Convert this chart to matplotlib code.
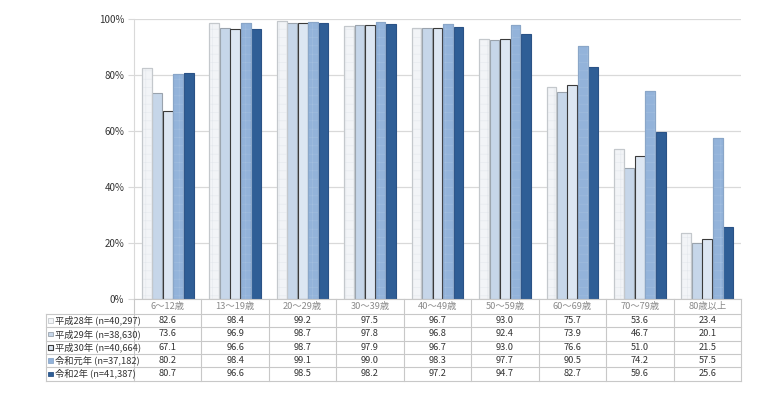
import matplotlib
matplotlib.use("Agg")
import matplotlib.pyplot as plt
from matplotlib.patches import Rectangle
import numpy as np

plt.rcParams['font.family'] = ['Noto Sans CJK JP', 'DejaVu Sans']
plt.rcParams['hatch.linewidth'] = 0.4

categories = ["6～12歳", "13～19歳", "20～29歳", "30～39歳", "40～49歳",
              "50～59歳", "60～69歳", "70～79歳", "80歳以上"]
series_labels = ["平成28年 (n=40,297)", "平成29年 (n=38,630)", "平成30年 (n=40,664)",
                 "令和元年 (n=37,182)", "令和2年 (n=41,387)"]
h28 = [82.6, 98.4, 99.2, 97.5, 96.7, 93.0, 75.7, 53.6, 23.4]
h29 = [73.6, 96.9, 98.7, 97.8, 96.8, 92.4, 73.9, 46.7, 20.1]
h30 = [67.1, 96.6, 98.7, 97.9, 96.7, 93.0, 76.6, 51.0, 21.5]
r1 = [80.2, 98.4, 99.1, 99.0, 98.3, 97.7, 90.5, 74.2, 57.5]
r2 = [80.7, 96.6, 98.5, 98.2, 97.2, 94.7, 82.7, 59.6, 25.6]
series = [h28, h29, h30, r1, r2]

faces = ["#f2f4f7", "#c6d6e9", "#dce6f2", "#93b3da", "#2f5e96"]
edges = ["#c4c8cc", "#9aa3ad", "#3a3a3a", "#8aa6c8", "#2a5286"]
hatches = ["++", None, None, "++", None]
hatch_cols = ["#e4e8ed", None, None, "#a2bedf", None]

W, H = 765, 394
fig = plt.figure(figsize=(W / 100, H / 100), dpi=100)

x0, x1 = 134, 741
y_top, y_zero = 19, 299
ax = fig.add_axes([x0 / W, 1 - y_zero / H, (x1 - x0) / W, (y_zero - y_top) / H])
n = len(categories)
ax.set_xlim(-0.5, n - 0.5)
ax.set_ylim(0, 100)
xs = np.arange(n)
step = 0.155
bw = 0.145
for i, vals in enumerate(series):
    pos = xs + (i - 2) * step
    ax.bar(pos, vals, width=bw, color=faces[i], edgecolor=edges[i], linewidth=0.8, zorder=3)
    if hatches[i]:
        ax.bar(pos, vals, width=bw, color="none", edgecolor=hatch_cols[i],
               hatch=hatches[i], linewidth=0, zorder=4)
        ax.bar(pos, vals, width=bw, color="none", edgecolor=edges[i], linewidth=0.8, zorder=5)

ax.set_yticks([0, 20, 40, 60, 80, 100])
ax.set_yticklabels(["0%", "20%", "40%", "60%", "80%", "100%"], fontsize=7, color="#333333")
ax.set_xticks([])
ax.grid(axis="y", color="#d9d9d9", linewidth=0.9, zorder=0)
for s in ["top", "right", "bottom"]:
    ax.spines[s].set_visible(False)
ax.spines["left"].set_color("#d9d9d9")
ax.tick_params(axis="y", length=4, color="#d9d9d9", pad=3)

# table
tx0 = 46
t_top, t_hdr, row_h = 299, 314, 13.3
t_bot = t_hdr + row_h * 5
tax = fig.add_axes([0, 0, 1, 1])
tax.set_xlim(0, W)
tax.set_ylim(H, 0)
tax.axis("off")
colw = (x1 - x0) / n
lc = "#c8c8c8"
tax.plot([x0, x1], [t_top, t_top], color=lc, lw=0.8)
for r in range(6):
    y = t_hdr + r * row_h
    tax.plot([tx0, x1], [y, y], color=lc, lw=0.8)
tax.plot([tx0, tx0], [t_hdr, t_bot], color=lc, lw=0.8)
for c in range(n + 1):
    xx = x0 + c * colw
    tax.plot([xx, xx], [t_top, t_bot], color=lc, lw=0.8)
for c, cat in enumerate(categories):
    tax.text(x0 + (c + 0.5) * colw, (t_top + t_hdr) / 2, cat, ha="center", va="center",
             fontsize=6.7, color="#8a8a8a")
for r, vals in enumerate(series):
    yc = t_hdr + (r + 0.5) * row_h
    for c, v in enumerate(vals):
        tax.text(x0 + (c + 0.5) * colw, yc, f"{v:.1f}", ha="center", va="center",
                 fontsize=6.7, color="#333333")
    tax.add_patch(Rectangle((48.5, yc - 2.3), 4.6, 4.6, facecolor=faces[r],
                            edgecolor=edges[r], lw=0.8 if r == 2 else 0.6))
    tax.text(55, yc, series_labels[r], ha="left", va="center", fontsize=6.7, color="#333333")

fig.savefig("out.png", dpi=100)
